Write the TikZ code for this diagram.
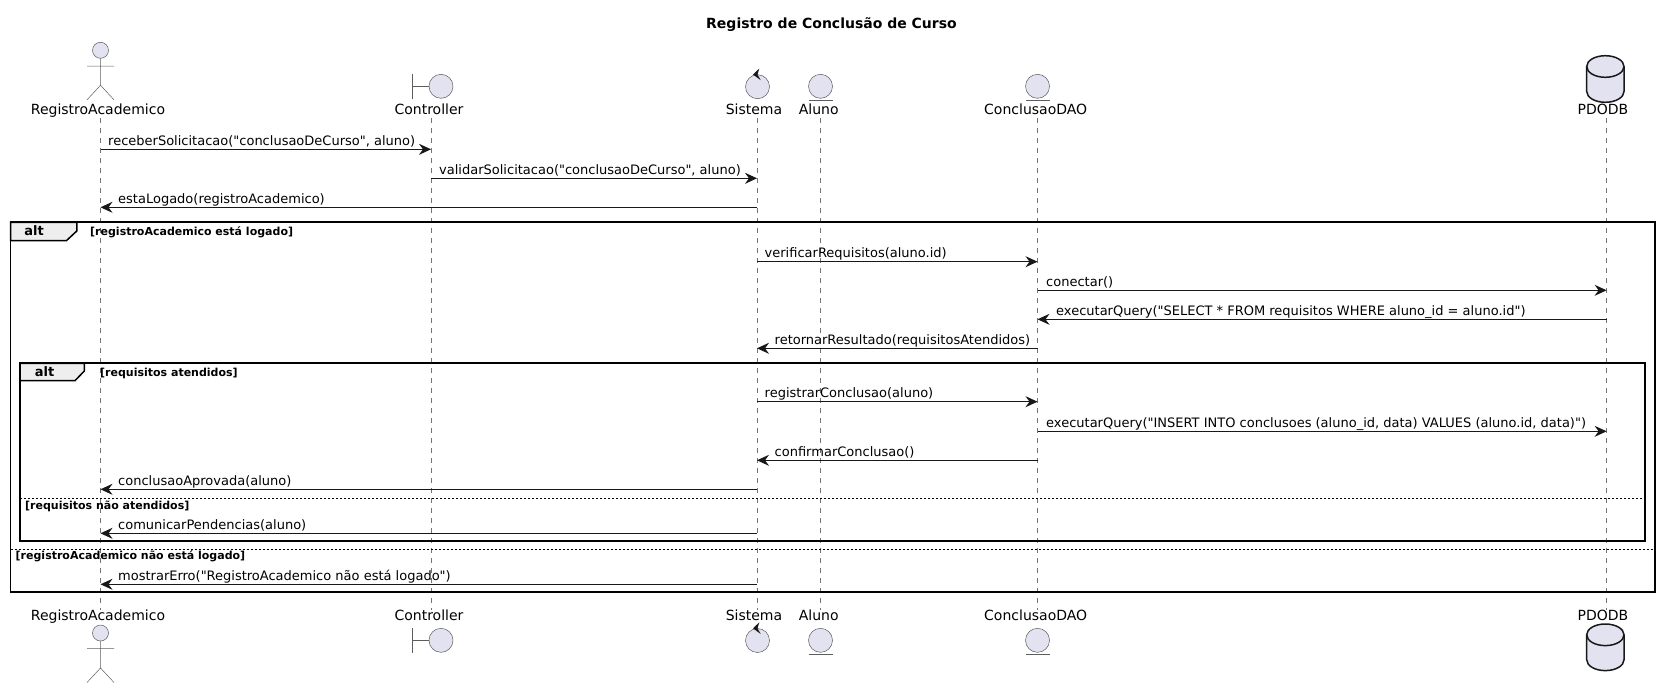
\documentclass[tikz,border=0pt]{standalone}
\usepackage{fontspec}
\setmainfont[Ligatures=TeXOff]{DejaVu Sans}
\usetikzlibrary{arrows.meta}

\definecolor{partfill}{HTML}{E2E2F0}
\definecolor{partline}{HTML}{181818}
\definecolor{tabfill}{HTML}{EEEEEE}

\tikzset{
	msg/.style={-{Stealth[length=12pt,width=11pt,inset=4pt]},line width=1pt,draw=partline},
	msgtext/.style={anchor=base west,inner sep=0pt,font=\fontsize{13}{15}\selectfont},
	parttext/.style={anchor=base,inner sep=0pt,font=\fontsize{14}{16}\selectfont},
	lifeline/.style={draw=partline!60,line width=.5pt,dash pattern=on 5pt off 5pt},
	frame/.style={draw=black,line width=1.8pt},
	tab/.style={draw=black,line width=1.5pt,fill=tabfill},
	tabtext/.style={inner sep=0pt,font=\bfseries\fontsize{13}{15}\selectfont},
	guard/.style={anchor=base west,inner sep=0pt,font=\bfseries\fontsize{11}{13}\selectfont},
	elsesep/.style={draw=black,line width=1pt,dash pattern=on 2pt off 2pt},
	part/.style={draw=partline!70,line width=.5pt,fill=partfill},
	partstroke/.style={draw=partline!70,line width=.5pt},
	pics/actorfig/.style={code={
		\draw[part] (0,0) circle (8pt);
		\draw[partstroke] (0,8) -- (0,35) (-13.5,15.7) -- (13.5,15.7) (-13.5,49.5) -- (0,35) -- (13.5,49.5);
	}},
	pics/boundaryfig/.style={code={
		\draw[partstroke] (-29,-12.3) -- (-29,12.3) (-29,0) -- (-12,0);
		\draw[part] (0,0) circle (12pt);
	}},
	pics/controlfig/.style={code={
		\draw[part] (0,0) circle (12pt);
		\fill[partline] (-4.5,-12.2) -- (1.8,-18.2) -- (0,-12.2) -- (3.2,-6.5) -- cycle;
	}},
	pics/entityfig/.style={code={
		\draw[part] (0,0) circle (12pt);
		\draw[partstroke] (-12,14) -- (12,14);
	}},
	pics/databasefig/.style={code={
		\draw[fill=partfill,draw=partline,line width=1.5pt] (-18.6,10.8) -- (-18.6,35.8)
			.. controls (-18.6,41.8) and (-10.3,46.6) .. (0,46.6)
			.. controls (10.3,46.6) and (18.7,41.8) .. (18.7,35.8) -- (18.7,10.8)
			.. controls (18.7,4.8) and (10.3,0) .. (0,0)
			.. controls (-10.3,0) and (-18.6,4.8) .. (-18.6,10.8) -- cycle;
		\draw[line width=1.5pt,draw=partline] (-18.6,10.8)
			.. controls (-18.6,16.8) and (-10.3,21.6) .. (0,21.6)
			.. controls (10.3,21.6) and (18.7,16.8) .. (18.7,10.8);
	}},
}

\begin{document}
\begin{tikzpicture}[x=1pt,y=-1pt]
	\useasboundingbox (0,0) rectangle (1659,688);

	\node[inner sep=0pt,font=\bfseries\fontsize{14}{16}\selectfont] (Title) at (831.5,24.5) {Registro de Conclusão de Curso};

	% lifelines
	\coordinate (RegistroTop) at (100.5,118);
	\coordinate (ControllerTop) at (431,118);
	\coordinate (SistemaTop) at (757,118);
	\coordinate (AlunoTop) at (820.5,118);
	\coordinate (DAOTop) at (1037.5,118);
	\coordinate (PDODBTop) at (1606.6,118);
	\coordinate (RegistroEnd) at (100.5,610);
	\coordinate (ControllerEnd) at (431,610);
	\coordinate (SistemaEnd) at (757,610);
	\coordinate (AlunoEnd) at (820.5,610);
	\coordinate (DAOEnd) at (1037.5,610);
	\coordinate (PDODBEnd) at (1606.6,610);
	\draw[lifeline] (RegistroTop) -- (RegistroEnd);
	\draw[lifeline] (ControllerTop) -- (ControllerEnd);
	\draw[lifeline] (SistemaTop) -- (SistemaEnd);
	\draw[lifeline] (AlunoTop) -- (AlunoEnd);
	\draw[lifeline] (DAOTop) -- (DAOEnd);
	\draw[lifeline] (PDODBTop) -- (PDODBEnd);

	% participants, top
	\pic at (100.5,50.3) {actorfig};
	\pic at (441,86.3) {boundaryfig};
	\pic at (757.5,86.7) {controlfig};
	\pic at (820.5,86.3) {entityfig};
	\pic at (1037.5,86.3) {entityfig};
	\pic at (1605.3,55.7) {databasefig};
	\node[parttext] (RegistroHead) at (98,114.5) {RegistroAcademico};
	\node[parttext] (ControllerHead) at (429,114.5) {Controller};
	\node[parttext] (SistemaHead) at (754,114.5) {Sistema};
	\node[parttext] (AlunoHead) at (818.7,114.5) {Aluno};
	\node[parttext] (DAOHead) at (1035.7,114.5) {ConclusaoDAO};
	\node[parttext] (PDODBHead) at (1603,114.5) {PDODB};

	% participants, bottom
	\pic at (100.5,633) {actorfig};
	\pic at (441,640.3) {boundaryfig};
	\pic at (757.5,640.5) {controlfig};
	\pic at (820.5,640.3) {entityfig};
	\pic at (1037.5,640.3) {entityfig};
	\pic at (1605.3,624) {databasefig};
	\node[parttext] (RegistroFoot) at (98,620.7) {RegistroAcademico};
	\node[parttext] (ControllerFoot) at (429,620.7) {Controller};
	\node[parttext] (SistemaFoot) at (754,620.7) {Sistema};
	\node[parttext] (AlunoFoot) at (818.7,620.7) {Aluno};
	\node[parttext] (DAOFoot) at (1035.7,620.7) {ConclusaoDAO};
	\node[parttext] (PDODBFoot) at (1603,620.7) {PDODB};

	% outer alt
	\draw[frame] (10.5,222.3) rectangle (1655,592.3);
	\draw[tab] (10.5,222.3) -- (76.8,222.3) -- (76.8,231) -- (66.5,240.6) -- (10.5,240.6) -- cycle;
	\node[tabtext] (OuterAlt) at (34,231) {alt};
	\node[guard] (OuterGuard) at (90,235) {[registroAcademico está logado]};
	\coordinate (OuterLeft) at (10.5,549.3);
	\coordinate (OuterRight) at (1655,549.3);
	\draw[elsesep] (OuterLeft) -- (OuterRight);
	\node[guard] (OuterElse) at (15.5,559.5) {[registroAcademico não está logado]};

	% inner alt
	\draw[frame] (20,363.3) rectangle (1645,541);
	\draw[tab] (20,363.3) -- (84.3,363.3) -- (84.3,371) -- (75,380.7) -- (20,380.7) -- cycle;
	\node[tabtext] (InnerAlt) at (44.5,372) {alt};
	\node[guard] (InnerGuard) at (100,376) {[requisitos atendidos]};
	\coordinate (InnerLeft) at (20,498.3);
	\coordinate (InnerRight) at (1645,498.3);
	\draw[elsesep] (InnerLeft) -- (InnerRight);
	\node[guard] (InnerElse) at (25,509.5) {[requisitos não atendidos]};

	% messages
	\coordinate (m1) at (0,149.3);
	\coordinate (m2) at (0,178.3);
	\coordinate (m3) at (0,207.3);
	\coordinate (m4) at (0,261.7);
	\coordinate (m5) at (0,290.3);
	\coordinate (m6) at (0,319.3);
	\coordinate (m7) at (0,348.3);
	\coordinate (m8) at (0,401.7);
	\coordinate (m9) at (0,431.3);
	\coordinate (m10) at (0,460.3);
	\coordinate (m11) at (0,489.3);
	\coordinate (m12) at (0,533.3);
	\coordinate (m13) at (0,584.3);

	\draw[msg] (RegistroTop |- m1) to (ControllerTop |- m1);
	\draw[msg] (ControllerTop |- m2) to (SistemaTop |- m2);
	\draw[msg] (SistemaTop |- m3) to (RegistroTop |- m3);
	\draw[msg] (SistemaTop |- m4) to (DAOTop |- m4);
	\draw[msg] (DAOTop |- m5) to (PDODBTop |- m5);
	\draw[msg] (PDODBTop |- m6) to (DAOTop |- m6);
	\draw[msg] (DAOTop |- m7) to (SistemaTop |- m7);
	\draw[msg] (SistemaTop |- m8) to (DAOTop |- m8);
	\draw[msg] (DAOTop |- m9) to (PDODBTop |- m9);
	\draw[msg] (DAOTop |- m10) to (SistemaTop |- m10);
	\draw[msg] (SistemaTop |- m11) to (RegistroTop |- m11);
	\draw[msg] (SistemaTop |- m12) to (RegistroTop |- m12);
	\draw[msg] (SistemaTop |- m13) to (RegistroTop |- m13);

	\node[msgtext] (Receber) at (108,145.3) {receberSolicitacao("conclusaoDeCurso", aluno)};
	\node[msgtext] (Validar) at (439,174.3) {validarSolicitacao("conclusaoDeCurso", aluno)};
	\node[msgtext] (Logado) at (118,203.3) {estaLogado(registroAcademico)};
	\node[msgtext] (Verificar) at (764.5,257.7) {verificarRequisitos(aluno.id)};
	\node[msgtext] (Conectar) at (1046,286.3) {conectar()};
	\node[msgtext] (QuerySelect) at (1056,315.3) {executarQuery("SELECT * FROM requisitos WHERE aluno\_id = aluno.id")};
	\node[msgtext] (Retornar) at (774.5,344.3) {retornarResultado(requisitosAtendidos)};
	\node[msgtext] (Registrar) at (764.5,397.7) {registrarConclusao(aluno)};
	\node[msgtext] (QueryInsert) at (1046,427.3) {executarQuery("INSERT INTO conclusoes (aluno\_id, data) VALUES (aluno.id, data)")};
	\node[msgtext] (Confirmar) at (774.5,456.3) {confirmarConclusao()};
	\node[msgtext] (Aprovada) at (118,485.3) {conclusaoAprovada(aluno)};
	\node[msgtext] (Pendencias) at (118,529.3) {comunicarPendencias(aluno)};
	\node[msgtext] (Erro) at (118,580.3) {mostrarErro("RegistroAcademico não está logado")};
\end{tikzpicture}
\end{document}
